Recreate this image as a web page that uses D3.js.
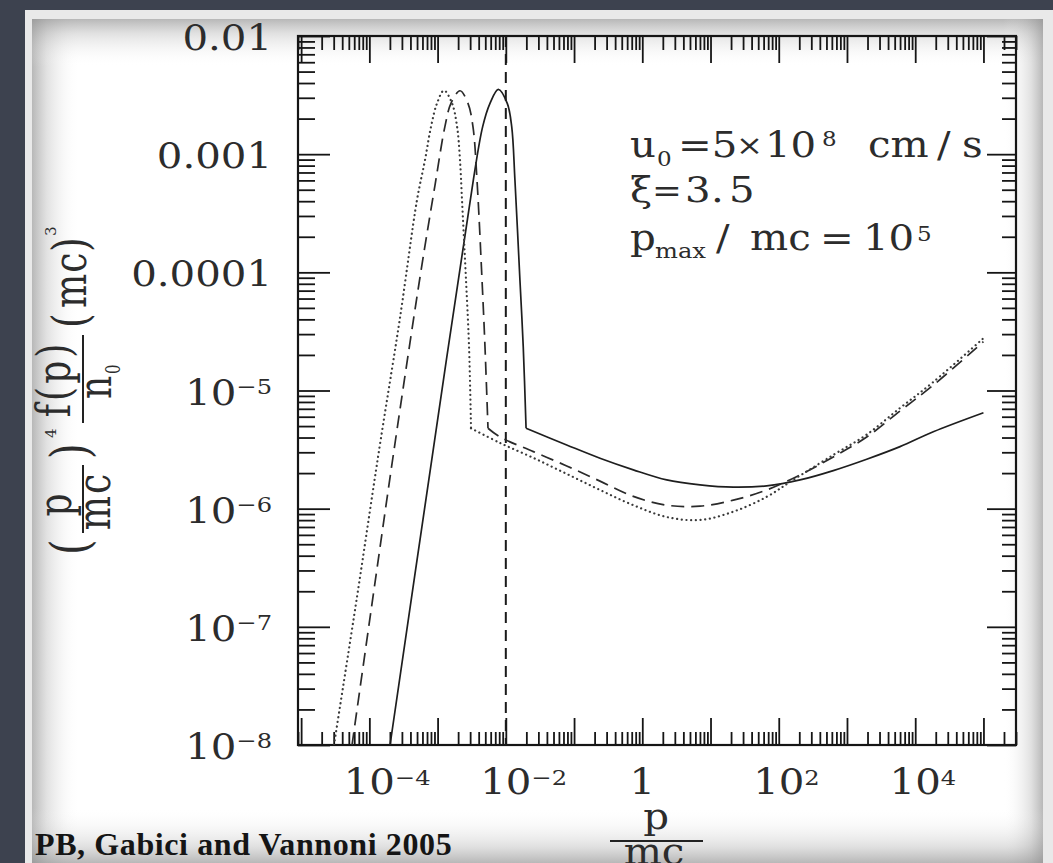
<!DOCTYPE html>
<html>
<head>
<meta charset="utf-8">
<script src="https://cdn.jsdelivr.net/npm/d3@7"></script>
<style>
  body { margin: 0; background: #3d424f; }
  svg { display: block; }
  .math { font-family: "DejaVu Serif", serif; fill: #2c2c2c; }
</style>
</head>
<body>
<svg id="chart" width="1053" height="863"></svg>
<script>
// ---- DATA (p/mc , (p/mc)^4 f(p)/n0 (mc)^3) ----
// each spectrum: thermal bump up to the injection kink, then the power-law tail
const solidBump = [
  [2.01e-4, 1e-8], [8.20e-4, 2.58e-6], [3.34e-3, 6.04e-4], [4.58e-3, 1.71e-3],
  [5.86e-3, 2.69e-3], [7.76e-3, 3.54e-3], [1.05e-2, 2.69e-3], [1.22e-2, 1.71e-3],
  [1.36e-2, 6.04e-4], [1.61e-2, 8.6e-5], [1.80e-2, 2.35e-5], [1.98e-2, 4.79e-6]
];
const solidTail = [
  [1.98e-2, 4.79e-6], [7.80e-2, 3.46e-6], [0.240, 2.67e-6], [0.739, 2.13e-6],
  [2.28, 1.75e-6], [7.02, 1.59e-6], [21.6, 1.52e-6], [66.6, 1.56e-6],
  [205, 1.75e-6], [630, 2.10e-6], [1946, 2.62e-6], [5990, 3.35e-6],
  [1.84e4, 4.48e-6], [1e5, 6.49e-6]
];
const dashedBump = [
  [5.57e-5, 1e-8], [1.13e-4, 1.79e-7], [2.30e-4, 3.14e-6], [5.53e-4, 9.13e-5],
  [9.17e-4, 5.48e-4], [1.28e-3, 1.71e-3], [1.57e-3, 2.69e-3], [2.13e-3, 3.44e-3],
  [2.79e-3, 2.69e-3], [3.30e-3, 1.71e-3], [3.78e-3, 6.04e-4], [4.48e-3, 8.6e-5],
  [4.95e-3, 2.35e-5], [5.48e-3, 4.79e-6]
];
const dashedTail = [
  [5.48e-3, 4.79e-6], [8.22e-3, 4.04e-6], [2.53e-2, 3.04e-6], [7.80e-2, 2.30e-6],
  [0.240, 1.71e-6], [0.739, 1.27e-6], [2.28, 1.07e-6], [7.02, 1.05e-6],
  [21.6, 1.18e-6], [66.6, 1.44e-6], [205, 1.93e-6], [630, 2.74e-6],
  [1946, 4.04e-6], [5990, 6.71e-6], [1.84e4, 1.11e-5], [1e5, 2.59e-5]
];
const dottedBump = [
  [3.03e-5, 1e-8], [6.59e-5, 1.79e-7], [1.39e-4, 3.14e-6], [2.81e-4, 4.11e-5],
  [4.99e-4, 4.09e-4], [6.54e-4, 8.93e-4], [8.01e-4, 1.71e-3], [9.80e-4, 2.69e-3],
  [1.24e-3, 3.46e-3], [1.63e-3, 2.69e-3], [1.93e-3, 1.71e-3], [2.13e-3, 8.93e-4],
  [2.28e-3, 4.09e-4], [2.61e-3, 8.6e-5], [2.89e-3, 2.35e-5], [3.09e-3, 4.79e-6]
];
const dottedTail = [
  [3.09e-3, 4.79e-6], [8.22e-3, 3.60e-6], [2.53e-2, 2.69e-6], [7.80e-2, 1.97e-6],
  [0.240, 1.44e-6], [0.739, 1.07e-6], [2.28, 8.50e-7], [7.02, 8.02e-7],
  [21.6, 9.43e-7], [66.6, 1.26e-6], [162, 1.75e-6], [630, 2.85e-6],
  [1946, 4.24e-6], [5990, 7.11e-6], [1.84e4, 1.18e-5], [1e5, 2.77e-5]
];
const shockMomentum = 1e-2;   // vertical dashed line

// axes
const xMajor = [1e-5, 1e-4, 1e-3, 1e-2, 1e-1, 1, 10, 1e2, 1e3, 1e4, 1e5];
const yMajor = [1e-8, 1e-7, 1e-6, 1e-5, 1e-4, 1e-3, 1e-2];
const xLabelValues = [1e-4, 1e-2, 1, 1e2, 1e4];
const xLabelBase = ["10", "10", "1", "10", "10"];
const xLabelSup = ["\u22124", "\u22122", "", "2", "4"];
const yLabelValues = [1e-2, 1e-3, 1e-4, 1e-5, 1e-6, 1e-7, 1e-8];
const yLabelBase = ["0.01", "0.001", "0.0001", "10", "10", "10", "10"];
const yLabelSup = ["", "", "", "\u22125", "\u22126", "\u22127", "\u22128"];

// ---- LAYOUT ----
const width = 1053, height = 863;
const plot = { left: 298, top: 36, right: 1016, bottom: 745 };
const SX = 1.15;   // the slide stretched the figure sideways

const svg = d3.select("#chart");
const defs = svg.append("defs");

// edge shading of the paper sheet
function shade(id, x1, y1, x2, y2) {
  const g = defs.append("linearGradient").attr("id", id)
    .attr("x1", x1).attr("y1", y1).attr("x2", x2).attr("y2", y2);
  g.append("stop").attr("offset", 0).attr("stop-color", "#8c8c8c").attr("stop-opacity", 0.62);
  g.append("stop").attr("offset", 0.3).attr("stop-color", "#9a9a9a").attr("stop-opacity", 0.3);
  g.append("stop").attr("offset", 1).attr("stop-color", "#ffffff").attr("stop-opacity", 0);
}
shade("shL", 0, 0, 1, 0);
shade("shR", 1, 0, 0, 0);
shade("shT", 0, 0, 0, 1);
shade("shB", 0, 1, 0, 0);

defs.append("clipPath").attr("id", "plotClip").append("rect")
  .attr("x", plot.left).attr("y", plot.top)
  .attr("width", plot.right - plot.left).attr("height", plot.bottom - plot.top);

// BACKGROUND
svg.append("rect").attr("width", width).attr("height", height).attr("fill", "#3d424f");
svg.append("rect").attr("x", 25).attr("y", 10).attr("width", width - 25).attr("height", height - 10)
  .attr("fill", "#e9e9e9");
const sheet = { x0: 32, y0: 19, x1: 1043, y1: 880 };
svg.append("rect").attr("x", sheet.x0).attr("y", sheet.y0)
  .attr("width", sheet.x1 - sheet.x0).attr("height", sheet.y1 - sheet.y0).attr("fill", "#ffffff");
svg.append("rect").attr("x", sheet.x0).attr("y", sheet.y0).attr("width", 48)
  .attr("height", sheet.y1 - sheet.y0).attr("fill", "url(#shL)");
svg.append("rect").attr("x", sheet.x0).attr("y", sheet.y0).attr("height", 48)
  .attr("width", sheet.x1 - sheet.x0).attr("fill", "url(#shT)");
svg.append("rect").attr("x", sheet.x1 - 40).attr("y", sheet.y0).attr("width", 40)
  .attr("height", sheet.y1 - sheet.y0).attr("fill", "url(#shR)");
svg.append("rect").attr("x", sheet.x0).attr("y", 808).attr("height", height - 808)
  .attr("width", sheet.x1 - sheet.x0).attr("fill", "url(#shB)");

// SCALES
const x = d3.scaleLog().domain([9e-6, 3e5]).range([plot.left, plot.right]);
const y = d3.scaleLog().domain([1e-8, 1e-2]).range([plot.bottom, plot.top]);

function minorTicks(lo, hi) {
  const out = [];
  for (let e = Math.floor(Math.log10(lo)); e <= Math.ceil(Math.log10(hi)); e++) {
    for (let k = 2; k <= 9; k++) {
      const v = k * Math.pow(10, e);
      if (v >= lo && v <= hi) out.push(v);
    }
  }
  return out;
}
const xMinor = minorTicks(9e-6, 3e5);
const yMinor = minorTicks(1e-8, 1e-2);

// AXES (ticks pointing inwards on all four sides)
function tickAxis(axis, values, size, transform) {
  svg.append("g")
    .attr("transform", transform)
    .call(axis.tickValues(values).tickSize(size).tickSizeOuter(0).tickFormat(""))
    .call(g => g.select(".domain").remove())
    .attr("color", "#151515")
    .selectAll("line").attr("stroke-width", 1.8);
}
tickAxis(d3.axisBottom(x), xMajor, -27, `translate(0,${plot.bottom})`);
tickAxis(d3.axisBottom(x), xMinor, -13, `translate(0,${plot.bottom})`);
tickAxis(d3.axisTop(x), xMajor, -27, `translate(0,${plot.top})`);
tickAxis(d3.axisTop(x), xMinor, -14, `translate(0,${plot.top})`);
tickAxis(d3.axisLeft(y), yMajor, -32, `translate(${plot.left},0)`);
tickAxis(d3.axisLeft(y), yMinor, -17, `translate(${plot.left},0)`);
tickAxis(d3.axisRight(y), yMajor, -29, `translate(${plot.right},0)`);
tickAxis(d3.axisRight(y), yMinor, -14, `translate(${plot.right},0)`);

svg.append("rect")
  .attr("x", plot.left).attr("y", plot.top)
  .attr("width", plot.right - plot.left).attr("height", plot.bottom - plot.top)
  .attr("fill", "none").attr("stroke", "#151515").attr("stroke-width", 2.2);

// text helper: a text inside a translated + stretched group
function mtext(parent, tx, ty, txt, size, anchor, sx, sy) {
  const t = parent.append("g")
    .attr("transform", `translate(${tx},${ty}) scale(${sx || SX},${sy || 1})`)
    .append("text").attr("class", "math")
    .attr("font-size", size).attr("text-anchor", anchor || "start");
  if (txt !== null) t.text(txt);
  return t;
}

// TICK LABELS
yLabelValues.forEach((v, i) => {
  const t = mtext(svg, 272, y(v) + 14, null, 35, "end");
  t.append("tspan").text(yLabelBase[i]);
  if (yLabelSup[i]) t.append("tspan").attr("dy", -11).attr("font-size", 21).text(yLabelSup[i]);
});

xLabelValues.forEach((v, i) => {
  const base = mtext(svg, x(v), 794, xLabelBase[i], 35, "middle");
  if (xLabelSup[i]) {
    const w = base.node().getComputedTextLength() * SX;
    mtext(svg, x(v) + w / 2, 785, xLabelSup[i], 21);
  }
});

// CURVES
const line = d3.line()
  .x(d => x(d[0]))
  .y(d => y(d[1]))
  .curve(d3.curveCatmullRom.alpha(0.5));

const curves = svg.append("g").attr("clip-path", "url(#plotClip)")
  .attr("fill", "none").attr("stroke-linejoin", "round");

curves.append("line")
  .attr("x1", x(shockMomentum)).attr("x2", x(shockMomentum))
  .attr("y1", y(1e-2)).attr("y2", y(1e-8))
  .attr("stroke", "#1a1a1a").attr("stroke-width", 2)
  .attr("stroke-dasharray", "11,7");

[solidBump, solidTail].forEach(d => {
  curves.append("path").attr("d", line(d))
    .attr("stroke", "#1e1e1e").attr("stroke-width", 1.7);
});
[dashedBump, dashedTail].forEach(d => {
  curves.append("path").attr("d", line(d))
    .attr("stroke", "#2a2a2a").attr("stroke-width", 1.7)
    .attr("stroke-dasharray", "13,7");
});
[dottedBump, dottedTail].forEach(d => {
  curves.append("path").attr("d", line(d))
    .attr("stroke", "#3a3a3a").attr("stroke-width", 2.2)
    .attr("stroke-linecap", "round")
    .attr("stroke-dasharray", "0.1,4.6");
});

// INSET PARAMETERS
mtext(svg, 630, 157, "u", 35);
mtext(svg, 657, 166, "0", 20);
mtext(svg, 678, 157, "=5", 35);
mtext(svg, 736, 155, "\u00d7", 28);
mtext(svg, 765, 157, "10", 35);
mtext(svg, 822, 146, "8", 20);
mtext(svg, 868, 157, "cm", 35);
mtext(svg, 937, 157, "/", 35);
mtext(svg, 962, 157, "s", 35);

mtext(svg, 630, 202, "\u03be", 35);
mtext(svg, 652, 202, "=", 31);
mtext(svg, 685, 202, "3", 35);
mtext(svg, 711, 202, ".", 35);
mtext(svg, 729, 202, "5", 35);

mtext(svg, 630, 250, "p", 35);
mtext(svg, 655, 258, "max", 21);
mtext(svg, 716, 250, "/", 35);
mtext(svg, 750, 250, "mc", 35);
mtext(svg, 820, 250, "=", 35);
mtext(svg, 863, 250, "10", 35);
mtext(svg, 917, 241, "5", 20);

// X AXIS TITLE  p / mc
mtext(svg, 656, 829, "p", 35, "middle");
svg.append("line").attr("x1", 610).attr("x2", 703).attr("y1", 841).attr("y2", 841)
  .attr("stroke", "#222").attr("stroke-width", 2);
mtext(svg, 654, 864, "mc", 35, "middle");

// Y AXIS TITLE  (p/mc)^4 f(p)/n0 (mc)^3, rotated; glyphs stretched across the text line
const yt = svg.append("g").attr("transform", "translate(83,557) rotate(-90)");
const YS = 1.3;
mtext(yt, 2, 5, "(", 40, "start", 1, YS);
mtext(yt, 52, -12, "p", 36, "middle", 1, YS);
yt.append("line").attr("x1", 24).attr("x2", 92).attr("y1", 0).attr("y2", 0)
  .attr("stroke", "#222").attr("stroke-width", 2);
mtext(yt, 56, 27, "mc", 36, "middle", 1, YS).attr("letter-spacing", 2);
mtext(yt, 98, 5, ")", 40, "start", 1, YS);
mtext(yt, 119, -27, "4", 15, "start", 1, 1);
mtext(yt, 178, -13, "f(p)", 36, "middle", 1, YS).attr("letter-spacing", 3);
yt.append("line").attr("x1", 134).attr("x2", 222).attr("y1", 0).attr("y2", 0)
  .attr("stroke", "#222").attr("stroke-width", 2);
mtext(yt, 158, 28, "n", 36, "start", 1, YS);
mtext(yt, 183, 37, "0", 15, "start", 1, YS);
mtext(yt, 229, 4, "(", 38, "start", 1, YS);
mtext(yt, 249, 3, "mc", 36, "start", 1, YS).attr("letter-spacing", 1);
mtext(yt, 305, 4, ")", 38, "start", 1, YS);
mtext(yt, 321, -27, "3", 15, "start", 1, 1);

// CREDIT
svg.append("text")
  .attr("x", 35).attr("y", 855)
  .attr("font-family", "Liberation Serif, serif").attr("font-weight", "bold")
  .attr("font-size", 32).attr("letter-spacing", 0.6).attr("fill", "#151515")
  .text("PB, Gabici and Vannoni 2005");
</script>
</body>
</html>
